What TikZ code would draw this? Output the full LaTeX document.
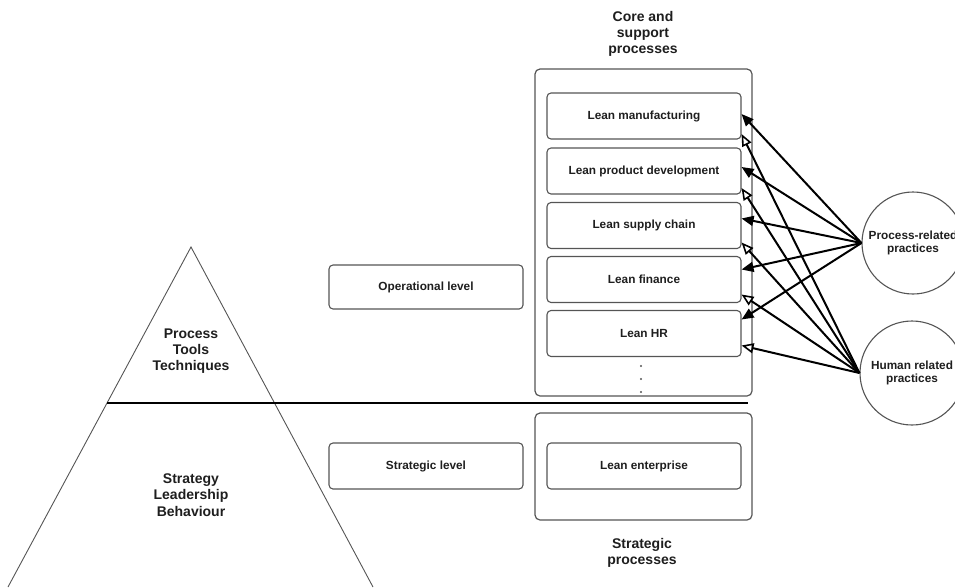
\documentclass[tikz,border=0pt]{standalone}
\usepackage{fontspec}
\setmainfont{Liberation Sans}
\usetikzlibrary{arrows.meta,calc}
\definecolor{edge}{HTML}{555555}
\definecolor{ink}{HTML}{1E1E1E}
\begin{document}
\begin{tikzpicture}[x=1pt,y=-1pt,
  lbl/.style={text=ink,font=\fontsize{11.8}{13.5}\selectfont\bfseries,align=center},
  big/.style={text=ink,font=\fontsize{14}{16.3}\selectfont\bfseries,align=center,inner sep=0},
  inbox/.style={lbl,draw=edge,line width=1.1pt,rounded corners=4pt,minimum width=194pt,minimum height=46pt,inner sep=0},
  outbox/.style={draw=edge,line width=1.2pt,rounded corners=5pt,minimum width=217pt,inner sep=0},
  circ/.style={lbl,draw=edge,line width=1.1pt,circle,inner sep=0},
  fa/.style={line width=2pt,-{Triangle[length=12pt,width=10pt]}},
  oa/.style={line width=2pt,-{Triangle[open,length=12pt,width=10pt,line width=1.6pt]}}]
\useasboundingbox (0,0) rectangle (955,587);
% pyramid
\coordinate (apex) at (191,247);
\coordinate (bl) at (8,587);
\coordinate (br) at (373,587);
\draw[edge,line width=0.9pt] (bl) -- (apex) -- (br);
\coordinate (hl) at (107,403);
\coordinate (hr) at (748,403);
\draw[black,line width=2.6pt] (hl) -- (hr);
\node[big] (ptt) at (191,351) {Process\\Tools\\Techniques};
\node[big] (slb) at (191,495) {Strategy\\Leadership\\Behaviour};
% levels
\node[inbox,minimum height=44pt] (op) at (426,287) {Operational level};
\node[inbox] (st) at (426,466) {Strategic level};
% outer boxes
\node[outbox,minimum height=327pt] (core) at (643.5,232.5) {};
\node[outbox,minimum height=107pt] (strat) at (643.5,466.5) {};
\node[big] (coret) at (643,34) {Core and\\support\\processes};
\node[big] (stratt) at (642,553) {Strategic\\processes};
% inner boxes
\node[inbox] (lm) at (644,116) {Lean manufacturing};
\node[inbox] (lpd) at (644,171) {Lean product development};
\node[inbox] (lsc) at (644,225.5) {Lean supply chain};
\node[inbox] (lf) at (644,279.5) {Lean finance};
\node[inbox] (lhr) at (644,333.5) {Lean HR};
\node[inbox] (le) at (644,466) {Lean enterprise};
\node[inner sep=0,minimum size=2pt] (dots) at (641,379) {};
\foreach \yy in {366,379,392} \fill[edge] (641,\yy) circle (1.1pt);
% circles
\node[circ,minimum size=102pt] (prp) at (913,243) {Process-related\\practices};
\node[circ,minimum size=104pt] (hrp) at (912,373) {Human related\\practices};
% connectors
\draw[fa] (prp.west) -- ([yshift=2pt]lm.east);
\draw[fa] (prp.west) -- ([yshift=4pt]lpd.east);
\draw[fa] (prp.west) -- ([yshift=7pt]lsc.east);
\draw[fa] (prp.west) -- ([yshift=10pt]lf.east);
\draw[fa] (prp.west) -- ([yshift=14pt]lhr.east);
\draw[oa] (hrp.west) -- ([yshift=-18pt]lm.east);
\draw[oa] (hrp.west) -- ([yshift=-17pt]lpd.east);
\draw[oa] (hrp.west) -- ([yshift=-17pt]lsc.east);
\draw[oa] (hrp.west) -- ([yshift=-15pt]lf.east);
\draw[oa] (hrp.west) -- ([yshift=-12pt]lhr.east);
\end{tikzpicture}
\end{document}
